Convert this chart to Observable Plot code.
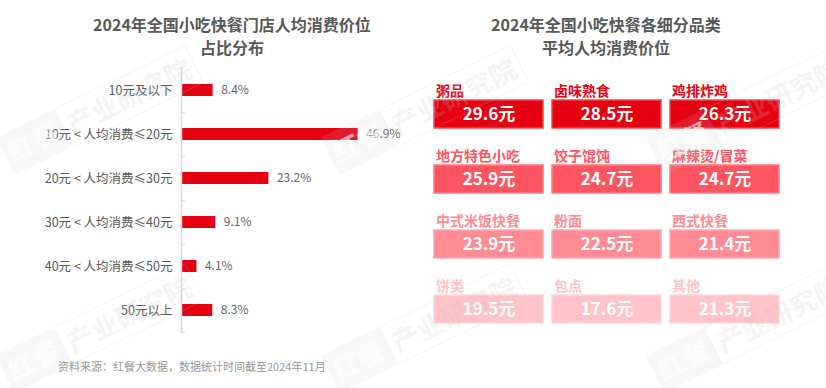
<!DOCTYPE html>
<html><head><meta charset="utf-8">
<script src="https://cdn.jsdelivr.net/npm/d3@7"></script>
<script src="https://cdn.jsdelivr.net/npm/@observablehq/plot@0.6"></script>
<style>
body{margin:0;background:#fff;font-family:"Noto Sans CJK SC",sans-serif;}
#root{position:relative;width:826px;height:388px;overflow:hidden;background:#fff;}
.title{position:absolute;width:400px;font-size:16px;font-weight:bold;color:#595959;line-height:18px;text-align:center;white-space:nowrap;}
.caption{position:absolute;left:58px;top:358px;font-size:11px;color:#999;line-height:16px;white-space:nowrap;}
.chart{position:absolute;top:60px;}
.wm{position:absolute;transform:translate(-50%,-50%) rotate(-26deg);pointer-events:none;display:flex;white-space:nowrap;font-weight:bold;font-size:27px;line-height:40px;}
.wm .a{background:rgba(200,200,200,0.14);color:rgba(255,255,255,0.6);padding:0 5px;border-radius:3px;}
.wm .b{border:1.5px solid rgba(200,200,200,0.2);color:rgba(200,200,200,0.2);padding:0 5px;}
</style></head>
<body>
<div id="root">
  <div class="title" style="left:32px;top:14.5px">2024年全国小吃快餐门店人均消费价位</div>
  <div class="title" style="left:32px;top:37.5px">占比分布</div>
  <div class="title" style="left:406px;top:14.5px">2024年全国小吃快餐各细分品类</div>
  <div class="title" style="left:406px;top:37.5px">平均人均消费价位</div>
  <div class="chart" id="left" style="left:0"></div>
  <div class="chart" id="right" style="left:413px"></div>
  <div class="caption">资料来源：红餐大数据，数据统计时间截至2024年11月</div>
  <div id="wms"></div>
</div>
<script>
// Left chart data
const priceBands = ["10元及以下","10元 < 人均消费≤20元","20元 < 人均消费≤30元","30元 < 人均消费≤40元","40元 < 人均消费≤50元","50元以上"];
const shares = [8.4, 46.9, 23.2, 9.1, 4.1, 8.3];

// Right chart data
const categories = ["粥品","卤味熟食","鸡排炸鸡","地方特色小吃","饺子馄饨","麻辣烫/冒菜","中式米饭快餐","粉面","西式快餐","饼类","包点","其他"];
const avgPrices = [29.6, 28.5, 26.3, 25.9, 24.7, 24.7, 23.9, 22.5, 21.4, 19.5, 17.6, 21.3];
const tierColors = ["#E60012","#FF5560","#FF8B94","#FFC3C8"];
const tierStroke = ["#F04550","#FF7A82","#FFA8AF","#FFD6DA"];

// Watermark centres
const wmX = [100, 425, 750];
const wmY = [110, 328];

const font = '"Noto Sans CJK SC", sans-serif';

const leftData = priceBands.map((c, i) => ({cat: c, value: shares[i]}));
const left = Plot.plot({
  width: 413, height: 278,
  marginLeft: 181, marginRight: 6, marginTop: 7, marginBottom: 5,
  style: {fontFamily: font, color: "#595959", background: "transparent"},
  x: {domain: [0, 60], axis: null},
  y: {domain: priceBands, paddingInner: 0.73, paddingOuter: 0.365, axis: null},
  marks: [
    Plot.ruleY(priceBands, {y: d => d, x1: 0, x2: 1.1, dy: 22.2, stroke: "#d9d9d9"}),
    Plot.barX(leftData, {y: "cat", x: "value", fill: "#E60012"}),
    Plot.ruleX([0], {stroke: "#d9d9d9", strokeWidth: 1.5}),
    Plot.axisY({tickSize: 0, tickPadding: 9, fontSize: 12.5, fill: "#595959", label: null}),
    Plot.text(leftData, {y: "cat", x: "value", text: d => d.value.toFixed(1) + "%", dx: 8, textAnchor: "start", fill: "#666", fontSize: 12})
  ]
});
document.getElementById("left").appendChild(left);

const tiles = categories.map((c, i) => ({cat: c, value: avgPrices[i], col: i % 3, row: Math.floor(i / 3)}));
const right = Plot.plot({
  width: 413, height: 275,
  marginLeft: 20, marginRight: 46, marginTop: 21, marginBottom: 12,
  style: {fontFamily: font, background: "transparent"},
  x: {type: "band", domain: [0, 1, 2], paddingInner: 0.076, paddingOuter: 0, axis: null},
  y: {type: "band", domain: [0, 1, 2, 3], paddingInner: 0.294, paddingOuter: 0, axis: null},
  color: {type: "ordinal", domain: [0, 1, 2, 3], range: tierColors},
  marks: [
    Plot.cell(tiles, {x: "col", y: "row", fill: "row", insetTop: 18, stroke: d => tierStroke[d.row], strokeWidth: 1.5}),
    Plot.text(tiles, {x: "col", y: "row", text: "cat", fill: "row", dy: -14, dx: -53, textAnchor: "start", fontSize: 14, fontWeight: "bold"}),
    Plot.text(tiles, {x: "col", y: "row", text: d => d.value.toFixed(1) + "元", fill: "white", dy: 9, fontSize: 17, fontWeight: "bold"})
  ]
});
document.getElementById("right").appendChild(right);

const wms = document.getElementById("wms");
for (const y of wmY) for (const x of wmX) {
  const d = document.createElement("div");
  d.className = "wm";
  d.style.left = x + "px"; d.style.top = y + "px";
  d.innerHTML = '<span class="a">红餐</span><span class="b">产业研究院</span>';
  wms.appendChild(d);
}
</script>
</body></html>
